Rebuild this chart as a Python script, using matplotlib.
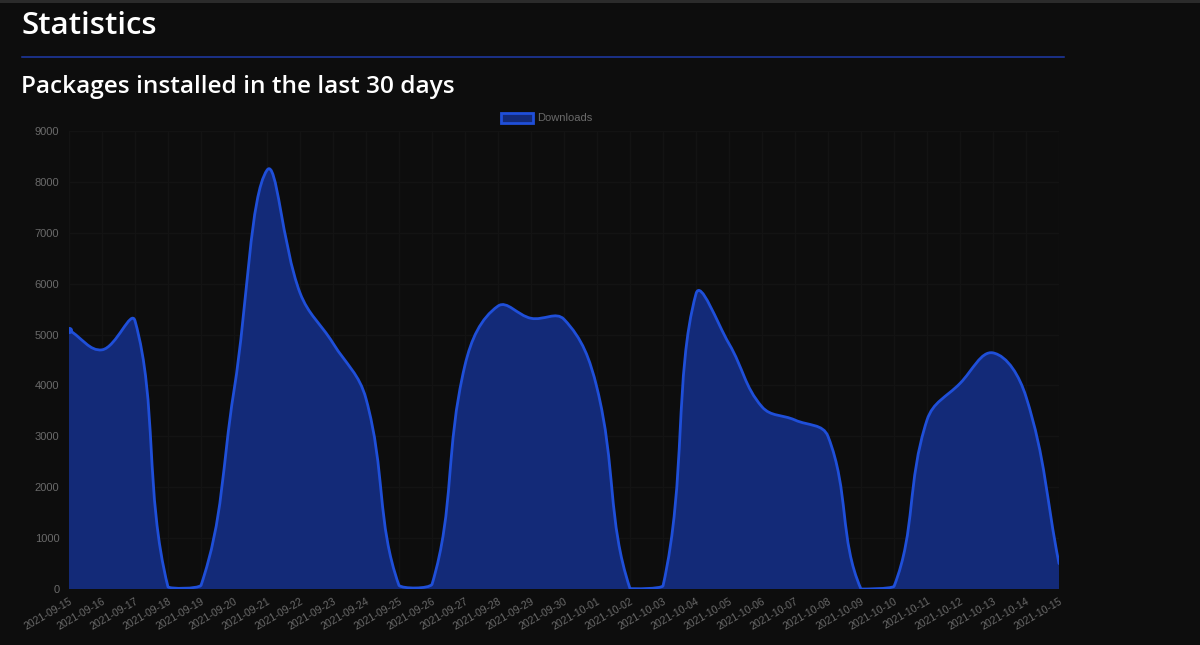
import numpy as np
import matplotlib
matplotlib.use("Agg")
import matplotlib.pyplot as plt
from matplotlib.path import Path
from matplotlib.patches import PathPatch, Rectangle

dates = ["2021-09-15", "2021-09-16", "2021-09-17", "2021-09-18", "2021-09-19", "2021-09-20",
         "2021-09-21", "2021-09-22", "2021-09-23", "2021-09-24", "2021-09-25", "2021-09-26",
         "2021-09-27", "2021-09-28", "2021-09-29", "2021-09-30", "2021-10-01", "2021-10-02",
         "2021-10-03", "2021-10-04", "2021-10-05", "2021-10-06", "2021-10-07", "2021-10-08",
         "2021-10-09", "2021-10-10", "2021-10-11", "2021-10-12", "2021-10-13", "2021-10-14",
         "2021-10-15"]
downloads = [5090, 4700, 5270, 40, 70, 3900, 8230, 5820, 4830, 3740, 70, 90,
             4400, 5560, 5320, 5300, 3950, 10, 60, 5800, 4820, 3580, 3320, 3000,
             0, 50, 3320, 4040, 4640, 3780, 500]
yticks = [0, 1000, 2000, 3000, 4000, 5000, 6000, 7000, 8000, 9000]

BG = "#0d0d0d"
LINE = "#1f4fd9"
FILL = "#132a78"
TICK = "#6a6a6a"

W, H = 1200, 645
fig = plt.figure(figsize=(W / 100, H / 100), dpi=100, facecolor=BG)

# top strip
fig.patches.append(Rectangle((0, 1 - 3 / H), 1, 3 / H, transform=fig.transFigure,
                             facecolor="#2b2b2b", edgecolor="none"))

fig.text(21 / W, 1 - 26 / H, "Statistics", color="white", fontsize=22.5,
         family="Open Sans", weight="semibold", va="center", ha="left")
fig.add_artist(plt.Line2D([22 / W, 1064 / W], [1 - 57 / H, 1 - 57 / H],
                          transform=fig.transFigure, color="#1f3aa8", lw=1.1))
fig.text(21 / W, 1 - 87 / H, "Packages installed in the last 30 days", color="white",
         fontsize=17.6, family="Open Sans", weight="semibold", va="center", ha="left")

left, right, top, bottom = 69, 1059, 131, 589
ax = fig.add_axes([left / W, 1 - bottom / H, (right - left) / W, (bottom - top) / H])
ax.set_facecolor(BG)
x = np.arange(len(dates))
ax.set_xlim(0, len(dates) - 1)
ax.set_ylim(0, 9000)

# Chart.js-style spline with tension 0.4 computed in pixel space
pts = ax.transData.transform(np.column_stack([x, downloads]).astype(float))
t = 0.4
n = len(pts)
cp_prev = np.zeros_like(pts)
cp_next = np.zeros_like(pts)
for i in range(n):
    p0 = pts[i - 1] if i > 0 else pts[i]
    p1 = pts[i]
    p2 = pts[i + 1] if i < n - 1 else pts[i]
    d01 = np.hypot(*(p1 - p0))
    d12 = np.hypot(*(p2 - p1))
    s01 = d01 / (d01 + d12) if (d01 + d12) else 0
    s12 = d12 / (d01 + d12) if (d01 + d12) else 0
    fa, fb = t * s01, t * s12
    cp_prev[i] = p1 - fa * (p2 - p0)
    cp_next[i] = p1 + fb * (p2 - p0)
ybot = ax.transData.transform((0, 0))[1]
ytop = ax.transData.transform((0, 9000))[1]
cp_prev[:, 1] = np.clip(cp_prev[:, 1], ybot, ytop)
cp_next[:, 1] = np.clip(cp_next[:, 1], ybot, ytop)
inv = ax.transData.inverted()
cpp = inv.transform(cp_prev)
cpn = inv.transform(cp_next)
data = np.column_stack([x, downloads]).astype(float)

verts = [data[0]]
codes = [Path.MOVETO]
for i in range(n - 1):
    verts += [cpn[i], cpp[i + 1], data[i + 1]]
    codes += [Path.CURVE4] * 3
line_path = Path(verts, codes)
fill_verts = verts + [(x[-1], 0), (x[0], 0), (x[0], 0)]
fill_codes = codes + [Path.LINETO, Path.LINETO, Path.CLOSEPOLY]
ax.add_patch(PathPatch(Path(fill_verts, fill_codes), facecolor=FILL, edgecolor="none", zorder=2))
ax.add_patch(PathPatch(line_path, facecolor="none", edgecolor=LINE, lw=2.0, zorder=3,
                       capstyle="round", joinstyle="round"))
ax.plot([x[0]], [downloads[0]], "o", color=LINE, ms=4, zorder=4)

ax.set_xticks(x)
ax.set_xticklabels(dates, rotation=30, ha="right", rotation_mode="anchor",
                   color=TICK, fontsize=7.6, family="Liberation Sans")
ax.set_yticks(yticks)
ax.set_yticklabels([str(v) for v in yticks], color=TICK, fontsize=8, family="Liberation Sans")
ax.tick_params(axis="both", length=0, pad=7)
ax.tick_params(axis="x", pad=5)
ax.grid(True, color="#131313", lw=1)
ax.set_axisbelow(True)
for s in ax.spines.values():
    s.set_visible(False)

# legend
fig.patches.append(Rectangle((501 / W, 1 - 123 / H), 32 / W, 10 / H, transform=fig.transFigure,
                             facecolor=FILL, edgecolor=LINE, lw=2))
fig.text(537 / W, 1 - 118 / H, "Downloads", color=TICK, fontsize=8,
         family="Liberation Sans", va="center", ha="left")

fig.savefig("out.png", dpi=100, facecolor=BG)
